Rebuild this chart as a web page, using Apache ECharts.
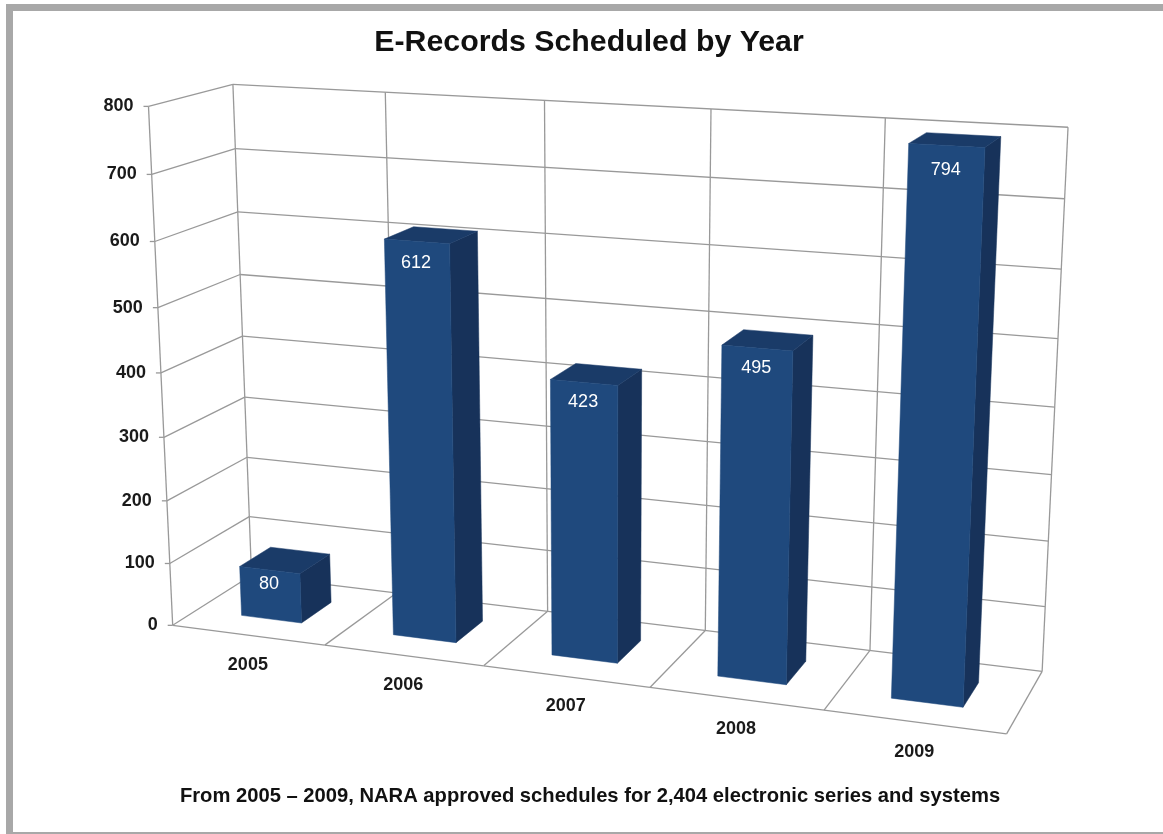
<!DOCTYPE html>
<html><head><meta charset="utf-8">
<style>html,body{margin:0;padding:0;background:#fff}#c{width:1163px;height:834px;filter:blur(0.4px)}</style>
<script src="https://cdn.jsdelivr.net/npm/echarts@6/dist/echarts.min.js"></script>
</head><body><div id="c"></div>
<script>
const categories = ['2005','2006','2007','2008','2009'];
const records = [80,612,423,495,794];
const yTicks = [0,100,200,300,400,500,600,700,800];
const titleText = 'E-Records Scheduled by Year';
const noteText = 'From 2005 – 2009, NARA approved schedules for 2,404 electronic series and systems';

// Camera calibration: scene (bands, hundreds, depth) -> screen
const calibration = [
 [0,0,0,173,625],[0,8,0,148,107],[0,0,1,251,575],[0,8,1,233,85],
 [5,8,1,1068,127],[5,0,1,1042,671],[5,0,0,1007,734],
 [1,0,0,326,645],[2,0,0,484,666],[3,0,0,650,688],[4,0,0,823,710],
 [1,8,1,386,92],[2,8,1,545,100],[3,8,1,711,110],[4,8,1,885,117],
 [4,0,1,870,651],[0,1,1,249,517],[0,4,0,160,372]
];
function solveCamera(pts){
  const A=[],b=[];
  pts.forEach(([X,Y,Z,x,y])=>{
    A.push([X,Y,Z,1,0,0,0,0,-x*X,-x*Y,-x*Z]);b.push(x);
    A.push([0,0,0,0,X,Y,Z,1,-y*X,-y*Y,-y*Z]);b.push(y);
  });
  const n=11,M=[];
  for(let i=0;i<n;i++){M.push([]);for(let j=0;j<=n;j++){let s=0;
    for(let k=0;k<A.length;k++)s+=A[k][i]*(j<n?A[k][j]:b[k]);M[i].push(s);}}
  for(let c=0;c<n;c++){let p=c;for(let r=c+1;r<n;r++)if(Math.abs(M[r][c])>Math.abs(M[p][c]))p=r;
    [M[c],M[p]]=[M[p],M[c]];
    for(let r=0;r<n;r++){if(r===c)continue;const f=M[r][c]/M[c][c];for(let j=c;j<=n;j++)M[r][j]-=f*M[c][j];}}
  return M.map((r,i)=>r[n]/r[i]);
}
const P=solveCamera(calibration);
function project(u,h,w){
  const d=P[8]*u+P[9]*h+P[10]*w+1;
  return [(P[0]*u+P[1]*h+P[2]*w+P[3])/d,(P[4]*u+P[5]*h+P[6]*w+P[7])/d];
}
// library axes -> scene coordinates
function scene(params,api,cat,val){
  const cs=params.coordSys,p=api.coord([cat,val]);
  return {u:(p[0]-cs.x)/cs.width*categories.length,h:(cs.y+cs.height-p[1])/cs.height*8};
}
const GRID='#999999',INK='#1a1a1a';
const line=(a,b)=>({type:'line',shape:{x1:a[0],y1:a[1],x2:b[0],y2:b[1]},style:{stroke:GRID,lineWidth:1.3,fill:null},silent:true});
const face=(pts,fill)=>({type:'polygon',shape:{points:pts},style:{fill:fill,stroke:fill,lineWidth:0.5},silent:true});
const label=(t,p,align,font,fill)=>({type:'text',style:{text:t,x:p[0],y:p[1],align:align,verticalAlign:'middle',font:font,fill:fill},silent:true});

function renderTick(params,api){
  const val=api.value(0),{h}=scene(params,api,0,val);
  const a=project(0,h,0),b=project(0,h,1),c=project(5,h,1);
  return {type:'group',children:[
    line([a[0]-5,a[1]],a),line(a,b),line(b,c),
    label(String(val),[a[0]-15,a[1]],'right','bold 18px "Liberation Sans",Arial,sans-serif',INK)
  ]};
}
function renderBand(params,api){
  const i=api.value(0),s=scene(params,api,i,0),r=s.u+0.5,l=s.u-0.5,kids=[];
  const top=scene(params,api,i,800).h;
  const f=project(r,0,0),bk=project(r,0,1),bt=project(r,top,1);
  kids.push(line(project(l,0,0),f),line(f,bk),line(bk,bt));
  if(i===0){
    kids.push(line(project(l,0,0),project(l,top,0)),line(project(l,0,1),project(l,top,1)));
  }
  const m=project(s.u,0,0);
  kids.push(label(categories[i],[m[0],m[1]+30],'center','bold 18px "Liberation Sans",Arial,sans-serif',INK));
  return {type:'group',children:kids};
}
function renderBar(params,api){
  const i=api.value(0),val=api.value(1),s=scene(params,api,i,val);
  const L=s.u-0.2,R=s.u+0.2,W0=0.3,W1=0.7,H=s.h;
  const fbl=project(L,0,W0),fbr=project(R,0,W0),ftl=project(L,H,W0),ftr=project(R,H,W0);
  const bbr=project(R,0,W1),btr=project(R,H,W1),btl=project(L,H,W1);
  const c=project(s.u-0.005,H,W0);
  return {type:'group',children:[
    face([ftr,fbr,bbr,btr],'#17325a'),
    face([ftl,ftr,btr,btl],'#1a3b68'),
    face([fbl,fbr,ftr,ftl],'#1f497d'),
    label(String(val),[c[0],c[1]+13+val*0.015],'center','18px "Liberation Sans",Arial,sans-serif','#ffffff')
  ]};
}
const chart=echarts.init(document.getElementById('c'),null,{renderer:'canvas'});
chart.setOption({
  animation:false,backgroundColor:'#ffffff',
  title:[
    {text:titleText,left:589,top:43,padding:0,textAlign:'center',textVerticalAlign:'middle',textStyle:{fontFamily:'"Liberation Sans",Arial,sans-serif',fontWeight:'bold',fontSize:30.3,color:'#111'}},
    {text:noteText,left:590,top:796,padding:0,textAlign:'center',textVerticalAlign:'middle',textStyle:{fontFamily:'"Liberation Sans",Arial,sans-serif',fontWeight:'bold',fontSize:20.2,color:'#111'}}
  ],
  grid:{left:100,right:100,top:100,bottom:100},
  xAxis:{type:'category',data:categories,show:false},
  yAxis:{type:'value',min:0,max:800,interval:100,show:false},
  graphic:[
    {type:'rect',shape:{x:6,y:4,width:1157,height:7},style:{fill:'#a8a8a8'},silent:true},
    {type:'rect',shape:{x:6,y:4,width:7,height:830},style:{fill:'#a8a8a8'},silent:true},
    {type:'rect',shape:{x:6,y:832,width:1157,height:2},style:{fill:'#a8a8a8'},silent:true}
  ],
  series:[
    {type:'custom',name:'Ticks',data:yTicks.map(v=>[v]),encode:{y:0},renderItem:renderTick,clip:false,z:1,silent:true},
    {type:'custom',name:'Bands',data:categories.map((c,i)=>[i]),encode:{x:0},renderItem:renderBand,clip:false,z:2,silent:true},
    {type:'custom',name:'E-Records',data:records.map((v,i)=>[i,v]),encode:{x:0,y:1},renderItem:renderBar,clip:false,z:3,silent:true}
  ]
});
</script></body></html>
